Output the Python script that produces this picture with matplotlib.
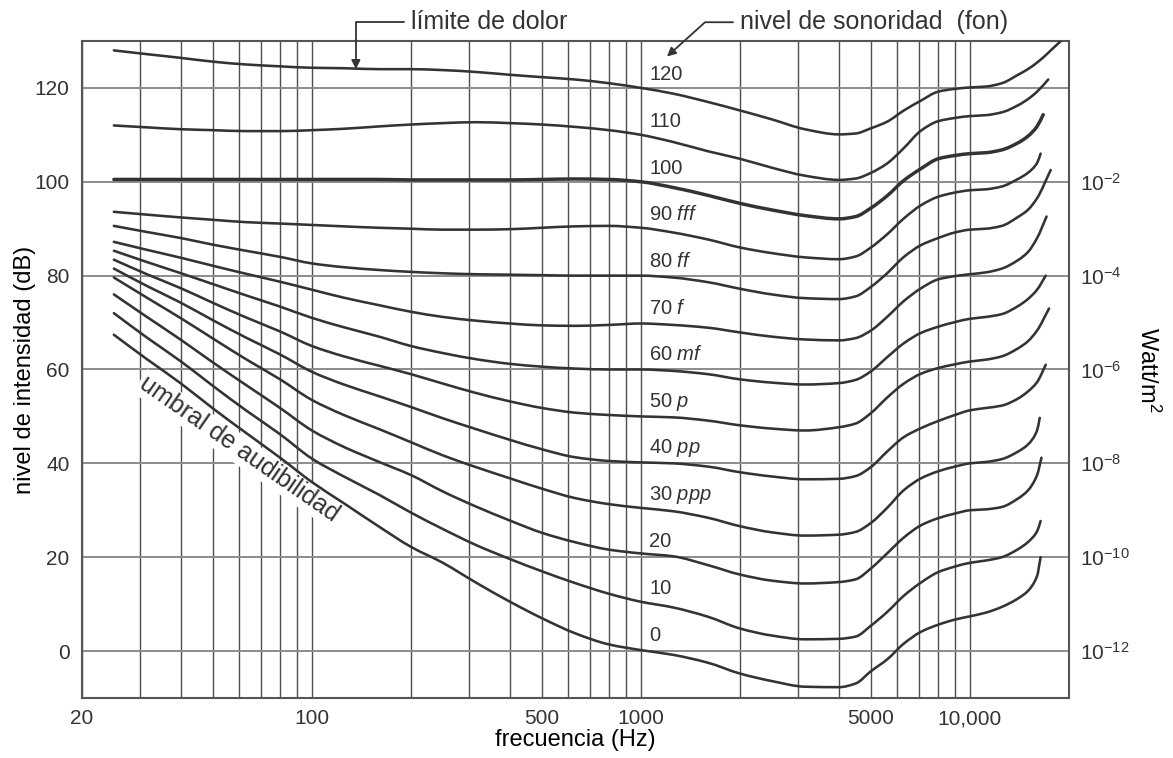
import numpy as np
import matplotlib.pyplot as plt
from matplotlib.path import Path
from matplotlib.patches import PathPatch
from matplotlib.ticker import FixedLocator, NullFormatter

plt.rcParams['font.family'] = ['Liberation Sans', 'DejaVu Sans']
plt.rcParams['mathtext.fontset'] = 'custom'
plt.rcParams['mathtext.rm'] = 'Liberation Sans'
plt.rcParams['mathtext.it'] = 'Liberation Sans:italic'
plt.rcParams['text.color'] = '#333333'

# frecuencias donde se leyeron las curvas (Hz)
freqs = [25, 31.5, 40, 50, 63, 80, 100, 125, 160, 200, 250, 315, 400, 500, 630, 800,
         1000, 1250, 1600, 2000, 2500, 3150, 4000, 4500, 5000, 5600, 6300, 7100, 8000,
         9000, 10000, 11200, 12500, 14000, 15000, 16000]

fon = [0, 10, 20, 30, 40, 50, 60, 70, 80, 90, 100, 110, 120]
dinamica = ['', '', '', 'ppp', 'pp', 'p', 'mf', 'f', 'ff', 'fff', '', '', '']

# nivel de intensidad (dB) de cada curva de igual sonoridad
c0 = [67.4, 62.2, 57.0, 51.7, 46.5, 41.2, 36.0, 31.5, 26.5, 22.2, 18.8, 14.6, 10.5, 7.0, 3.8, 1.4,
      0.2, -0.8, -2.5, -4.8, -6.4, -7.6, -7.7, -6.9, -4.3, -1.8, 1.6, 4.1, 5.6,
      6.7, 7.4, 8.2, 9.4, 11.2, 12.8, 16.0]
c10 = [72.0, 66.8, 61.7, 56.5, 51.3, 46.2, 41.0, 37.2, 33.3, 29.5, 26.0, 22.6, 19.6, 17.0, 14.5, 12.2,
       10.5, 9.3, 7.3, 4.8, 3.3, 2.5, 2.6, 3.1, 5.4, 8.3, 11.8, 14.6, 16.8,
       18.0, 18.8, 19.3, 20.0, 21.7, 23.2, 25.5]
c20 = [76.0, 71.2, 66.3, 61.5, 56.7, 51.8, 47.0, 43.5, 40.3, 37.5, 34.0, 30.8, 27.8, 25.2, 23.2, 21.6,
       20.8, 20.2, 18.3, 16.3, 15.0, 14.4, 14.7, 15.3, 17.6, 20.8, 24.2, 26.8, 28.3,
       29.3, 30.0, 30.2, 30.7, 32.5, 34.2, 37.5]
c30 = [79.6, 75.3, 70.9, 66.6, 62.2, 57.9, 53.5, 50.3, 47.3, 44.5, 41.7, 39.2, 36.8, 34.6, 32.6, 31.3,
       30.5, 29.8, 28.4, 26.6, 25.3, 24.6, 24.8, 25.4, 27.3, 30.5, 34.3, 36.8, 38.3,
       39.3, 40.0, 40.3, 40.9, 42.5, 44.0, 47.0]
c40 = [81.5, 77.8, 74.2, 70.5, 66.8, 63.2, 59.5, 56.8, 54.3, 52.0, 49.6, 47.3, 45.0, 43.0, 41.3, 40.5,
       40.2, 40.0, 39.3, 38.1, 37.2, 36.6, 36.7, 37.3, 39.2, 42.5, 45.6, 47.5, 49.0,
       50.3, 51.3, 51.8, 52.3, 53.8, 55.3, 57.3]
c50 = [83.4, 80.3, 77.3, 74.2, 71.1, 68.1, 65.0, 62.8, 60.8, 59.0, 57.0, 55.0, 53.2, 51.8, 50.8, 50.3,
       50.0, 49.8, 49.1, 48.1, 47.4, 47.0, 47.7, 48.5, 50.7, 54.0, 57.0, 59.1, 60.3,
       61.1, 61.7, 62.1, 62.8, 64.5, 66.0, 68.3]
c60 = [85.3, 82.9, 80.5, 78.2, 75.8, 73.4, 71.0, 69.0, 67.0, 65.0, 63.5, 62.2, 61.2, 60.6, 60.2, 60.0,
       60.0, 59.7, 59.0, 57.9, 57.2, 56.8, 57.1, 57.8, 59.6, 62.6, 65.6, 67.8, 69.1,
       70.1, 70.8, 71.2, 71.8, 73.5, 75.0, 77.0]
c70 = [87.2, 85.5, 83.8, 82.1, 80.4, 78.7, 77.0, 75.3, 73.7, 72.3, 71.2, 70.4, 69.8, 69.4, 69.3, 69.5,
       69.8, 69.5, 68.9, 67.9, 67.0, 66.4, 66.2, 66.7, 68.3, 71.2, 74.6, 77.3, 79.2,
       79.9, 80.3, 80.7, 81.5, 83.3, 85.0, 88.0]
c80 = [90.6, 89.3, 88.0, 86.6, 85.3, 84.0, 82.6, 81.8, 81.2, 80.8, 80.5, 80.3, 80.2, 80.1, 80.0, 80.0,
       80.0, 79.6, 78.6, 77.2, 76.0, 75.2, 75.0, 75.6, 77.6, 80.5, 84.0, 86.5, 88.0,
       89.2, 89.8, 90.0, 90.6, 92.5, 94.0, 96.5]
c90 = [93.6, 93.0, 92.4, 91.9, 91.4, 91.1, 90.8, 90.5, 90.2, 90.0, 89.8, 89.8, 89.9, 90.2, 90.5, 90.6,
       90.2, 89.2, 87.7, 86.0, 84.8, 83.9, 83.5, 84.1, 86.0, 88.8, 92.2, 95.0, 96.8,
       97.7, 98.2, 98.4, 99.0, 100.6, 101.9, 104.0]
c100 = [100.5, 100.5, 100.5, 100.5, 100.5, 100.5, 100.5, 100.5, 100.5, 100.4, 100.4, 100.4, 100.4, 100.5, 100.6, 100.5,
        100.0, 98.8, 97.1, 95.4, 94.0, 92.8, 92.1, 92.6, 94.4, 97.0, 100.3, 102.8, 104.9,
        105.6, 106.0, 106.2, 106.8, 108.3, 109.7, 111.8]
c110 = [112.0, 111.6, 111.2, 111.0, 110.8, 110.8, 111.0, 111.3, 111.8, 112.2, 112.5, 112.7, 112.5, 112.2, 111.7, 111.0,
        110.0, 108.5, 106.5, 104.9, 103.0, 101.3, 100.4, 100.7, 101.9, 103.9, 107.2, 110.9, 112.9,
        113.6, 114.0, 114.2, 114.8, 116.3, 117.6, 119.2]
c120 = [128.0, 127.2, 126.4, 125.6, 125.0, 124.6, 124.3, 124.2, 124.0, 124.0, 123.8, 123.4, 122.8, 122.3, 121.8, 121.0,
        120.0, 118.8, 117.0, 115.2, 113.3, 111.2, 110.1, 110.3, 111.4, 112.8, 115.2, 117.3, 119.2,
        119.8, 120.1, 120.3, 121.0, 122.8, 124.0, 125.4]

# extremo derecho de cada curva
fin_hz = [16400, 16400, 16500, 16300, 17000, 17400, 17000, 17100, 17600, 16400, 16700, 17300, 18900]
fin_db = [20.0, 27.7, 41.2, 49.7, 61.0, 73.0, 80.0, 92.6, 102.5, 106.0, 114.3, 121.8, 130.0]

curvas = [c0, c10, c20, c30, c40, c50, c60, c70, c80, c90, c100, c110, c120]

xticks = [20, 100, 500, 1000, 5000, 10000]
xticklabels = ['20', '100', '500', '1000', '5000', '10,000']
xminor = [30, 40, 50, 60, 70, 80, 90, 200, 300, 400, 600, 700, 800, 900,
          2000, 3000, 4000, 6000, 7000, 8000, 9000]
yticks = [0, 20, 40, 60, 80, 100, 120]
exponentes = [-12, -10, -8, -6, -4, -2]

color_linea = '#333333'


def trazo(f, db):
    # curva suave (Hermite monotona) que pasa por los puntos leidos, en escala log
    u = np.log10(np.asarray(f, dtype=float))
    y = np.asarray(db, dtype=float)
    h = np.diff(u)
    d = np.diff(y) / h
    m = np.empty_like(y)
    m[0], m[-1] = d[0], d[-1]
    for i in range(1, len(y) - 1):
        if d[i - 1] * d[i] <= 0:
            m[i] = 0.0
        else:
            w1 = 2 * h[i] + h[i - 1]
            w2 = h[i] + 2 * h[i - 1]
            m[i] = (w1 + w2) / (w1 / d[i - 1] + w2 / d[i])
    verts = [(u[0], y[0])]
    codes = [Path.MOVETO]
    for i in range(len(h)):
        verts += [(u[i] + h[i] / 3, y[i] + m[i] * h[i] / 3),
                  (u[i + 1] - h[i] / 3, y[i + 1] - m[i + 1] * h[i] / 3),
                  (u[i + 1], y[i + 1])]
        codes += [Path.CURVE4] * 3
    verts = np.array(verts)
    verts[:, 0] = 10 ** verts[:, 0]
    return Path(verts, codes)


fig = plt.figure(figsize=(11.73, 7.58), dpi=100)
ax = fig.add_axes([0.0699, 0.0792, 0.8414, 0.8667])

for nivel, c, fx, fy, din in zip(fon, curvas, fin_hz, fin_db, dinamica):
    lw = 2.5 if nivel == 100 else 1.85
    ax.add_patch(PathPatch(trazo(freqs + [fx], c + [fy]), facecolor='none',
                           edgecolor=color_linea, lw=lw, zorder=3, capstyle='round'))
    if din:
        etiqueta = f'{nivel} $\\mathit{{{din}}}$'
    else:
        etiqueta = str(nivel)
    ax.text(1060, nivel + 3.4 - 0.005 * nivel, etiqueta, fontsize=14.5,
            ha='left', va='center', zorder=4)

ax.set_xscale('log')
ax.set_xlim(20, 20000)
ax.set_ylim(-10, 130)
ax.xaxis.set_major_locator(FixedLocator(xticks))
ax.set_xticklabels(xticklabels)
ax.xaxis.set_minor_locator(FixedLocator(xminor))
ax.xaxis.set_minor_formatter(NullFormatter())
ax.set_yticks(yticks)

ax.set_axisbelow(True)
ax.grid(axis='x', which='both', color='#4d4d4d', lw=1.0)
ax.grid(axis='y', which='major', color='#8c8c8c', lw=1.4)
ax.tick_params(which='both', length=0, labelsize=15, colors='#333333')
ax.tick_params(axis='x', pad=8)
ax.tick_params(axis='y', pad=9)
for s in ax.spines.values():
    s.set_color('#555555')
    s.set_linewidth(1.5)

ax.set_xlabel('frecuencia (Hz)', fontsize=17, labelpad=1)
ax.set_ylabel('nivel de intensidad (dB)', fontsize=17, labelpad=-1)

# eje derecho: intensidad en W/m^2
sec = ax.secondary_yaxis('right', functions=(lambda d: d / 10 - 12, lambda e: (e + 12) * 10))
sec.set_yticks(exponentes, labels=[f'$10^{{{e}}}$' for e in exponentes])
sec.tick_params(length=0, pad=8, labelsize=15, colors='#333333')
sec.spines['right'].set_visible(False)
sec.set_ylabel('Watt/m$^2$', rotation=270, fontsize=17, labelpad=22)

ax.text(60, 43.0, 'umbral de audibilidad', fontsize=18, rotation=-34.8,
        rotation_mode='anchor', ha='center', va='center', zorder=2,
        bbox=dict(facecolor='white', edgecolor='none', pad=1.5))

flecha = dict(arrowstyle='-|>', color=color_linea, lw=1.3, mutation_scale=13,
              shrinkA=3, shrinkB=0)
ax.annotate('límite de dolor', xy=(136, 124.0), xytext=(200, 134.0),
            fontsize=18, ha='left', va='center', annotation_clip=False,
            arrowprops=dict(connectionstyle='angle,angleA=0,angleB=90,rad=0', **flecha))
ax.annotate('nivel de sonoridad  (fon)', xy=(1200, 126.7), xytext=(2000, 134.0),
            fontsize=18, ha='left', va='center', annotation_clip=False,
            arrowprops=dict(connectionstyle='angle,angleA=0,angleB=42,rad=0', **flecha))

fig.savefig('out.png', dpi=100)
